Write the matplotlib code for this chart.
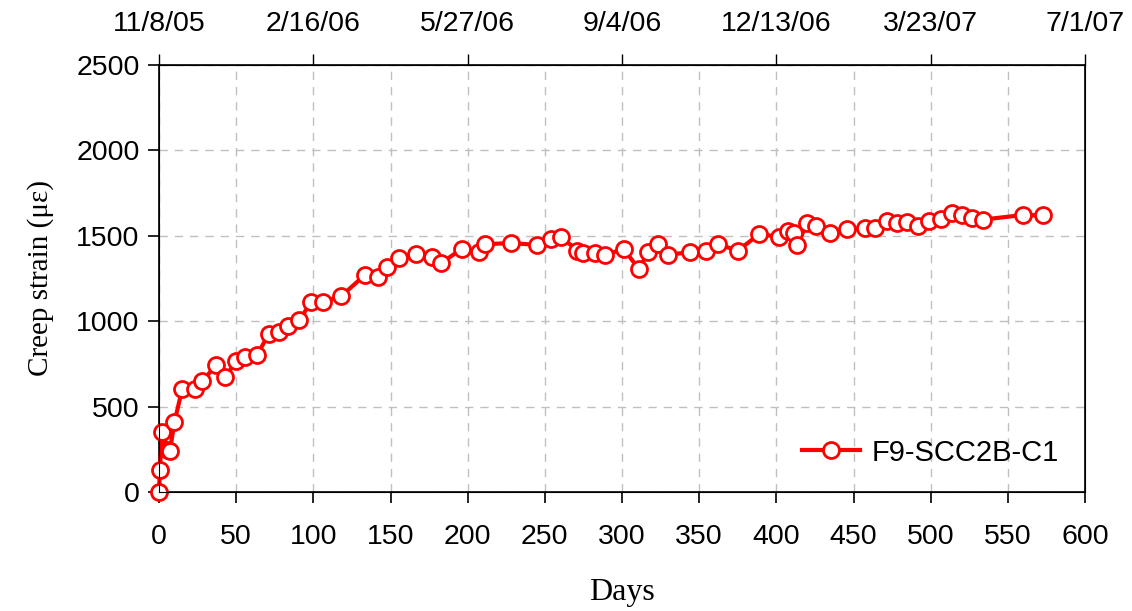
import matplotlib
matplotlib.use("Agg")
import matplotlib.pyplot as plt
from matplotlib.ticker import MultipleLocator

days = [0, 0.5, 2, 6, 7, 10, 15, 23, 28, 37, 43, 50, 56, 63.5, 71, 78, 83.5, 91,
        98.5, 106, 118, 133.5, 142, 148, 155.5, 166.5, 177, 183, 196, 207, 211,
        228, 245, 254, 260.5, 271, 275, 282.5, 289, 301, 311, 317, 323, 330,
        344, 354.5, 362, 375, 389, 402, 407.5, 411.5, 413.5, 420, 426, 435,
        446, 457.5, 464, 471.5, 478, 484.5, 492, 499, 507, 514, 520.5, 527,
        534, 560, 573]
strain = [0, 129, 351, 245, 240, 410, 603, 603, 650, 742, 673, 767, 793, 802, 923,
          938, 972, 1007, 1112, 1112, 1146, 1272, 1259, 1317, 1368, 1391, 1376,
          1341, 1423, 1408, 1451, 1457, 1447, 1481, 1495, 1413, 1400, 1400, 1387,
          1423, 1305, 1405, 1454, 1389, 1404, 1413, 1451, 1413, 1510, 1493, 1528,
          1516, 1446, 1574, 1560, 1514, 1537, 1548, 1546, 1587, 1576, 1579, 1557,
          1587, 1598, 1631, 1619, 1605, 1595, 1622, 1619]
series_label = "F9-SCC2B-C1"
top_ticks = [0, 100, 200, 300, 400, 500, 600]
top_labels = ["11/8/05", "2/16/06", "5/27/06", "9/4/06", "12/13/06", "3/23/07", "7/1/07"]

fig = plt.figure(figsize=(11.32, 6.11), dpi=100)
ax = fig.add_axes([0.1405, 0.1947, 0.818, 0.699])

ax.plot(days, strain, color="#ff0000", lw=3.0, marker="o", markersize=11.5,
        markerfacecolor="white", markeredgecolor="#ff0000", markeredgewidth=2.0,
        label=series_label, clip_on=False, zorder=5)

ax.set_xlim(0, 600)
ax.set_ylim(0, 2500)
ax.xaxis.set_major_locator(MultipleLocator(50))
ax.yaxis.set_major_locator(MultipleLocator(500))
ax.grid(True, color="#c0c0c0", linestyle=(0, (6, 5)), linewidth=1.0)
ax.tick_params(direction="out", length=8, width=1.2, labelsize=20.5, pad=15)
ax.tick_params(axis="y", pad=6)
for s in ax.spines.values():
    s.set_linewidth(1.2)

for lab in ax.get_xticklabels() + ax.get_yticklabels():
    lab.set_family("Liberation Sans")

ax.set_xlabel("Days", family="Liberation Serif", fontsize=23, labelpad=20)
ax.set_ylabel("Creep strain (με)", family="Liberation Serif", fontsize=21, labelpad=16)

ax2 = ax.twiny()
ax2.set_xlim(0, 600)
ax2.set_xticks(top_ticks)
ax2.set_xticklabels(top_labels, family="Liberation Sans", fontsize=20.5)
ax2.tick_params(direction="out", length=8, width=1.0, pad=12)

leg = ax.legend(loc="lower right", frameon=False,
                prop={"family": "Liberation Sans", "size": 21},
                bbox_to_anchor=(1.0, -0.002), handlelength=2.0, handletextpad=0.4)

fig.savefig("out.png", dpi=100)
